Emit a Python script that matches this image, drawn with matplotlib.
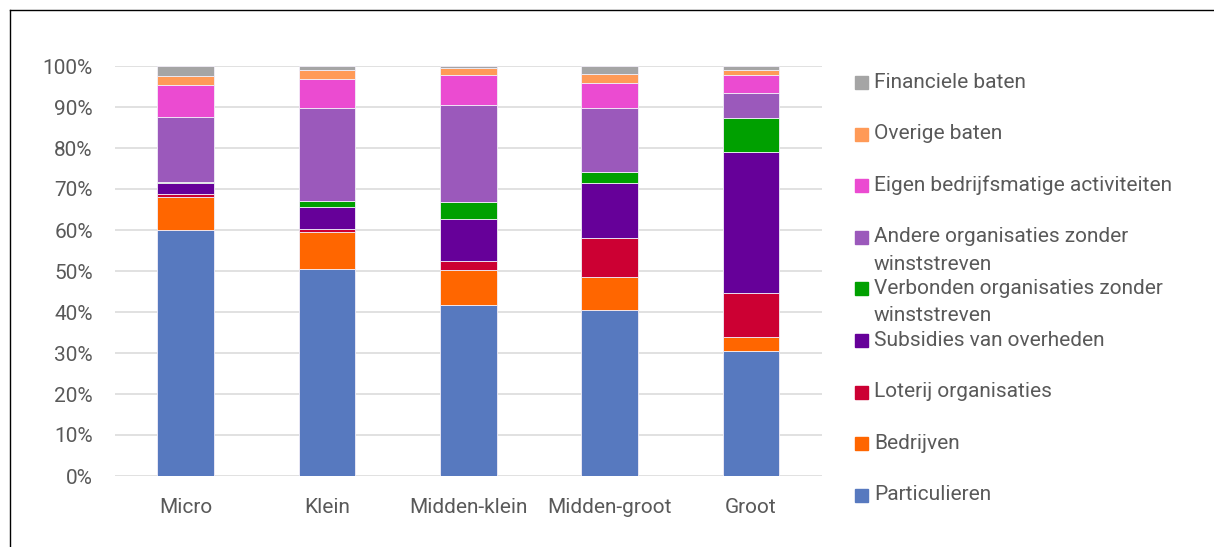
import matplotlib
matplotlib.use("Agg")
import matplotlib.pyplot as plt
from matplotlib.patches import Rectangle
from matplotlib.lines import Line2D
import numpy as np

plt.rcParams['font.family'] = ['Roboto', 'DejaVu Sans']

categories = ["Micro", "Klein", "Midden-klein", "Midden-groot", "Groot"]

series_names = [
    "Particulieren",
    "Bedrijven",
    "Loterij organisaties",
    "Subsidies van overheden",
    "Verbonden organisaties zonder\nwinststreven",
    "Andere organisaties zonder\nwinststreven",
    "Eigen bedrijfsmatige activiteiten",
    "Overige baten",
    "Financiele baten",
]

particulieren = [60.0, 50.5, 41.7, 40.4, 30.6]
bedrijven = [8.0, 9.1, 8.5, 8.1, 3.3]
loterij = [0.8, 0.6, 2.2, 9.5, 10.7]
subsidies = [2.7, 5.5, 10.4, 13.5, 34.5]
verbonden = [0.1, 1.4, 4.0, 2.7, 8.1]
andere = [16.0, 22.7, 23.8, 15.6, 6.2]
eigen = [7.8, 7.1, 7.3, 6.1, 4.5]
overige = [2.2, 2.1, 1.7, 2.1, 1.05]
financiele = [2.4, 1.05, 0.4, 2.0, 1.05]

colors = ["#5779BF", "#FF6600", "#CC0033", "#660099", "#00A000",
          "#9B59BB", "#EB4BD1", "#FF9A57", "#A5A5A5"]

values = np.array([particulieren, bedrijven, loterij, subsidies, verbonden,
                   andere, eigen, overige, financiele])
# normalise each column to 100%
values = values / values.sum(axis=0) * 100

W, H = 1214, 547
fig = plt.figure(figsize=(W / 100, H / 100), dpi=100)
ax = fig.add_axes([115 / W, 1 - 476 / H, (821.5 - 115) / W, (476 - 66) / H])

x = np.arange(len(categories))
bottom = np.zeros(len(categories))
for vals, col in zip(values, colors):
    ax.bar(x, vals, width=0.4, bottom=bottom, color=col,
           edgecolor="#F2EEF8", linewidth=0.6, zorder=3)
    bottom += vals

ax.set_xlim(-0.5, len(categories) - 0.5)
ax.set_ylim(0, 100)
ax.set_yticks(np.arange(0, 101, 10))
ax.set_yticklabels([f"{v}%" for v in range(0, 101, 10)])
ax.set_xticks(x)
ax.set_xticklabels(categories)
ax.tick_params(axis="both", length=0, labelsize=15, labelcolor="#595959")
ax.tick_params(axis="y", pad=16)
ax.tick_params(axis="x", pad=16)
ax.grid(axis="y", color="#D9D9D9", linewidth=1.1, zorder=0)
for s in ax.spines.values():
    s.set_visible(False)

# legend, top entry = last series
y0 = 82
step = 51.6
for i, (name, col) in enumerate(zip(series_names[::-1], colors[::-1])):
    yc = y0 + i * step
    fig.patches.append(Rectangle((855 / W, 1 - (yc + 7) / H), 13 / W, 13 / H,
                                 transform=fig.transFigure, color=col,
                                 figure=fig))
    for k, line in enumerate(name.split("\n")):
        fig.text(874 / W, 1 - (yc + k * 27.5) / H, line, fontsize=15,
                 color="#595959", va="center", ha="left")

# frame lines on left and top
fig.add_artist(Line2D([10 / W, 10 / W], [0, 1 - 10 / H], color="black",
                      linewidth=1.0, transform=fig.transFigure))
fig.add_artist(Line2D([10 / W, 1], [1 - 10 / H, 1 - 10 / H], color="black",
                      linewidth=1.0, transform=fig.transFigure))

fig.savefig("out.png", dpi=100)
